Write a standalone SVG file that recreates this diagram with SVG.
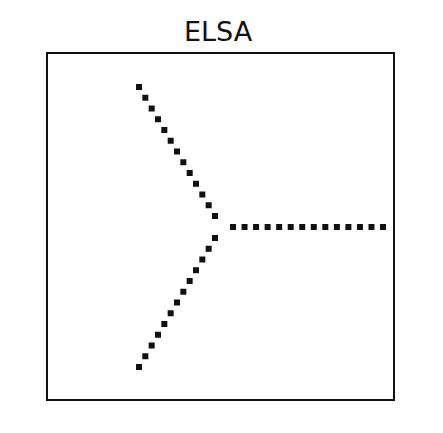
<svg xmlns="http://www.w3.org/2000/svg" xmlns:xlink="http://www.w3.org/1999/xlink" width="443" height="433" viewBox="0 0 443 433">
<style>
.title{font-family:"DejaVu Sans","Liberation Sans",sans-serif;font-size:27px;fill:#111}
.box{fill:#fff;stroke:#111;stroke-width:2}
.dot{fill:#111}
</style>
<defs>
<rect id="d" class="dot" x="-3" y="-3" width="6" height="6"/>
</defs>
<rect width="443" height="433" fill="#fff"/>
<g id="title"><text class="title" x="218" y="41" text-anchor="middle">ELSA</text></g>
<g id="frame"><rect class="box" x="47" y="53" width="347" height="347"/></g>
<g id="connectors">
<g id="upper">
<use xlink:href="#d" x="139" y="87"/><use xlink:href="#d" x="145.33" y="97.75"/><use xlink:href="#d" x="151.67" y="108.5"/><use xlink:href="#d" x="158" y="119.25"/><use xlink:href="#d" x="164.33" y="130"/><use xlink:href="#d" x="170.67" y="140.75"/><use xlink:href="#d" x="177" y="151.5"/><use xlink:href="#d" x="183.33" y="162.25"/><use xlink:href="#d" x="189.67" y="173"/><use xlink:href="#d" x="196" y="183.75"/><use xlink:href="#d" x="202.33" y="194.5"/><use xlink:href="#d" x="208.67" y="205.25"/><use xlink:href="#d" x="215" y="216"/>
</g>
<g id="lower">
<use xlink:href="#d" x="215" y="238"/><use xlink:href="#d" x="208.67" y="248.75"/><use xlink:href="#d" x="202.33" y="259.5"/><use xlink:href="#d" x="196" y="270.25"/><use xlink:href="#d" x="189.67" y="281"/><use xlink:href="#d" x="183.33" y="291.75"/><use xlink:href="#d" x="177" y="302.5"/><use xlink:href="#d" x="170.67" y="313.25"/><use xlink:href="#d" x="164.33" y="324"/><use xlink:href="#d" x="158" y="334.75"/><use xlink:href="#d" x="151.67" y="345.5"/><use xlink:href="#d" x="145.33" y="356.25"/><use xlink:href="#d" x="139" y="367"/>
</g>
<path id="horizontal" d="M230 227H386" stroke="#111" stroke-width="6" stroke-dasharray="6 5.54" fill="none"/>
</g>
</svg>
